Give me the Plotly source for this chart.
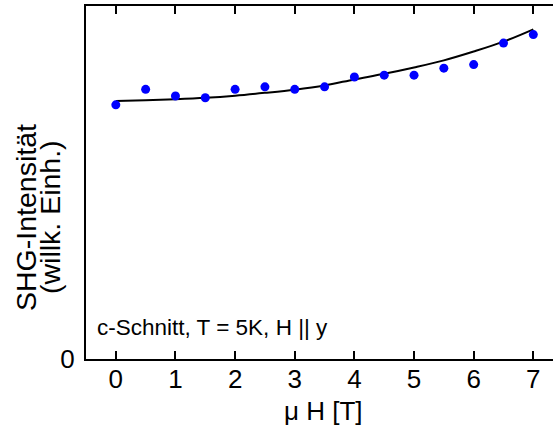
import plotly.graph_objects as go

# Measured SHG intensity vs. magnetic field (arbitrary units)
field_T = [0, 0.5, 1, 1.5, 2, 2.5, 3, 3.5, 4, 4.5, 5, 5.5, 6, 6.5, 7]
shg_intensity = [0.720, 0.764, 0.745, 0.740, 0.764, 0.771, 0.764, 0.771,
                 0.799, 0.804, 0.804, 0.824, 0.834, 0.895, 0.919]

# Fitted curve
fit_field = [0, 0.5, 1, 1.5, 2, 2.5, 3, 3.5, 4, 4.5, 5, 5.5, 6, 6.5, 7]
fit_intensity = [0.731, 0.733, 0.736, 0.740, 0.746, 0.754, 0.763, 0.775,
                 0.792, 0.808, 0.826, 0.846, 0.871, 0.899, 0.934]

x_ticks = [0, 1, 2, 3, 4, 5, 6, 7]
y_ticks = [0]

FONT = "Liberation Sans, Arial, Helvetica, sans-serif"

fig = go.Figure()
fig.add_trace(go.Scatter(
    x=fit_field, y=fit_intensity, mode="lines",
    line=dict(color="black", width=2, shape="spline"),
    showlegend=False, hoverinfo="skip",
))
fig.add_trace(go.Scatter(
    x=field_T, y=shg_intensity, mode="markers",
    marker=dict(color="#0000ff", size=9, line=dict(width=0)),
    showlegend=False,
))

fig.update_layout(
    width=553, height=425,
    margin=dict(l=86, r=0, t=6, b=66),
    paper_bgcolor="white", plot_bgcolor="white",
    font=dict(family=FONT, color="black", size=26),
    xaxis=dict(
        range=[-0.5, 7.33], tickvals=x_ticks, ticks="inside", ticklen=8,
        tickwidth=1.5, tickcolor="black", showline=True, linecolor="black",
        linewidth=2, mirror="ticks", showgrid=False, zeroline=False,
        tickfont=dict(size=26), ticklabelstandoff=-4, fixedrange=True,
    ),
    yaxis=dict(
        range=[0, 1], tickvals=y_ticks, ticks="", showline=True,
        linecolor="black", linewidth=2, mirror=False, showgrid=False,
        zeroline=False, tickfont=dict(size=26), ticklabelstandoff=4,
        fixedrange=True,
    ),
    annotations=[
        dict(text="c-Schnitt, T = 5K, H || y", xref="paper", yref="paper",
             x=(95 - 86) / 467, y=(359 - 327) / 353, xanchor="left",
             yanchor="middle", showarrow=False, font=dict(size=22.5)),
        dict(text="\u03bc H [T]", xref="paper", yref="paper",
             x=(323 - 86) / 467, y=-(411 - 359) / 353, xanchor="center",
             yanchor="middle", showarrow=False, font=dict(size=26)),
        dict(text="SHG-Intensit\u00e4t", xref="paper", yref="paper",
             x=-(86 - 26) / 467, y=(359 - 218) / 353, xanchor="center",
             yanchor="middle", textangle=-90, showarrow=False,
             font=dict(size=28.5)),
        dict(text="(willk. Einh.)", xref="paper", yref="paper",
             x=-(86 - 50) / 467, y=(359 - 217) / 353, xanchor="center",
             yanchor="middle", textangle=-90, showarrow=False,
             font=dict(size=28.5)),
    ],
)

fig.write_html("out.html")
